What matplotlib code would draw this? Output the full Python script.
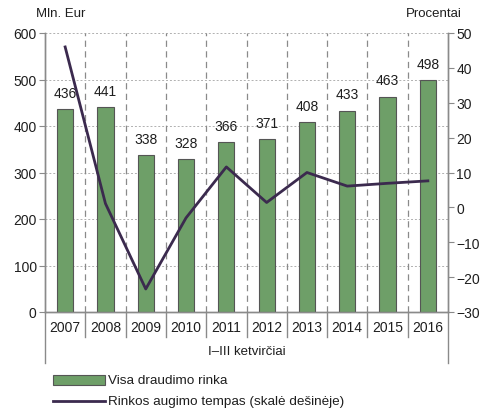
import matplotlib
matplotlib.use("Agg")
import matplotlib.pyplot as plt
from matplotlib.patches import Rectangle
from matplotlib.lines import Line2D
import matplotlib.transforms as mtrans

plt.rcParams['font.family'] = ['Liberation Sans', 'DejaVu Sans']

years = ['2007', '2008', '2009', '2010', '2011', '2012', '2013', '2014', '2015', '2016']
market = [436, 441, 338, 328, 366, 371, 408, 433, 463, 498]
growth = [46.0, 1.1, -23.4, -3.0, 11.6, 1.4, 10.0, 6.1, 6.9, 7.6]

W, H = 485, 414
fig = plt.figure(figsize=(W/100, H/100), dpi=100)
L, R, T, B = 45, 448, 34, 313
ax = fig.add_axes([L/W, 1-B/H, (R-L)/W, (B-T)/H])
ax2 = ax.twinx()

bar_color = '#6e9f68'
line_color = '#3b2a4e'
grey = '#8a8a8a'
txt = '#1e1e1e'
fs = 10

x = list(range(len(years)))
ax.bar(x, market, width=0.4, color=bar_color, edgecolor='#555555', linewidth=0.8, zorder=3)
for xi, v in zip(x, market):
    ax.text(xi, v + 20, str(v), ha='center', va='bottom', fontsize=fs, color=txt, zorder=4)

ax.set_xlim(-0.5, len(years) - 0.5)
ax.set_ylim(0, 600)
ax.set_yticks(range(0, 601, 100))
ax2.set_ylim(-30, 50)
ax2.set_yticks(range(-30, 51, 10))
ax2.set_yticklabels([('\u2212' + str(-t)) if t < 0 else str(t) for t in range(-30, 51, 10)])

ax2.plot(x, growth, color=line_color, linewidth=2.0, zorder=5)

# gridlines
for yv in range(100, 601, 100):
    ax.axhline(yv, color='#b0b0b0', linestyle=(0, (2, 2)), linewidth=0.7, zorder=1)
for b in [i + 0.5 for i in range(len(years) - 1)]:
    ax.axvline(b, color=grey, linestyle=(0, (5, 3.5)), linewidth=0.9, zorder=1)

for a in (ax, ax2):
    a.spines['top'].set_visible(False)
    for s in ('left', 'right', 'bottom'):
        a.spines[s].set_color(grey)
        a.spines[s].set_linewidth(1.0)
ax.tick_params(axis='y', direction='out', length=4, color=grey, labelsize=fs, labelcolor=txt, pad=2)
ax2.tick_params(axis='y', direction='out', length=4, color=grey, labelsize=fs, labelcolor=txt, pad=2)
ax.set_xticks([])

# category labels and separators below axis
trans = mtrans.blended_transform_factory(ax.transData, ax.transAxes)
px = 1.0 / (B - T)
for xi, yl in zip(x, years):
    ax.text(xi, -15 * px, yl, ha='center', va='center', fontsize=fs, transform=trans, color=txt)
for b in [i + 0.5 for i in range(len(years) - 1)]:
    ax.add_line(Line2D([b, b], [0, -25 * px], transform=trans, color=grey, linewidth=1.0, clip_on=False))
for b in (-0.5, len(years) - 0.5):
    ax.add_line(Line2D([b, b], [0, -51 * px], transform=trans, color=grey, linewidth=1.0, clip_on=False))
ax.text(0.5, -39 * px, 'I–III ketvirčiai', ha='center', va='center', fontsize=fs - 0.5, transform=ax.transAxes, color=txt)

# axis titles
fig.text(36/W, 1-14/H, 'Mln. Eur', ha='left', va='center', fontsize=fs - 0.5, color=txt)
fig.text(462/W, 1-14/H, 'Procentai', ha='right', va='center', fontsize=fs - 0.5, color=txt)

# legend
fig.patches.append(Rectangle((53/W, 1-386/H), 52/W, 10/H, transform=fig.transFigure,
                             facecolor=bar_color, edgecolor='#555555', linewidth=0.8))
fig.text(108/W, 1-381/H, 'Visa draudimo rinka', ha='left', va='center', fontsize=fs - 0.3, color=txt)
fig.lines.append(Line2D([53/W, 105/W], [1-402/H, 1-402/H], transform=fig.transFigure,
                        color=line_color, linewidth=2.0))
fig.text(108/W, 1-402/H, 'Rinkos augimo tempas (skalė dešinėje)', ha='left', va='center', fontsize=fs - 0.3, color=txt)

fig.savefig('out.png', dpi=100)
